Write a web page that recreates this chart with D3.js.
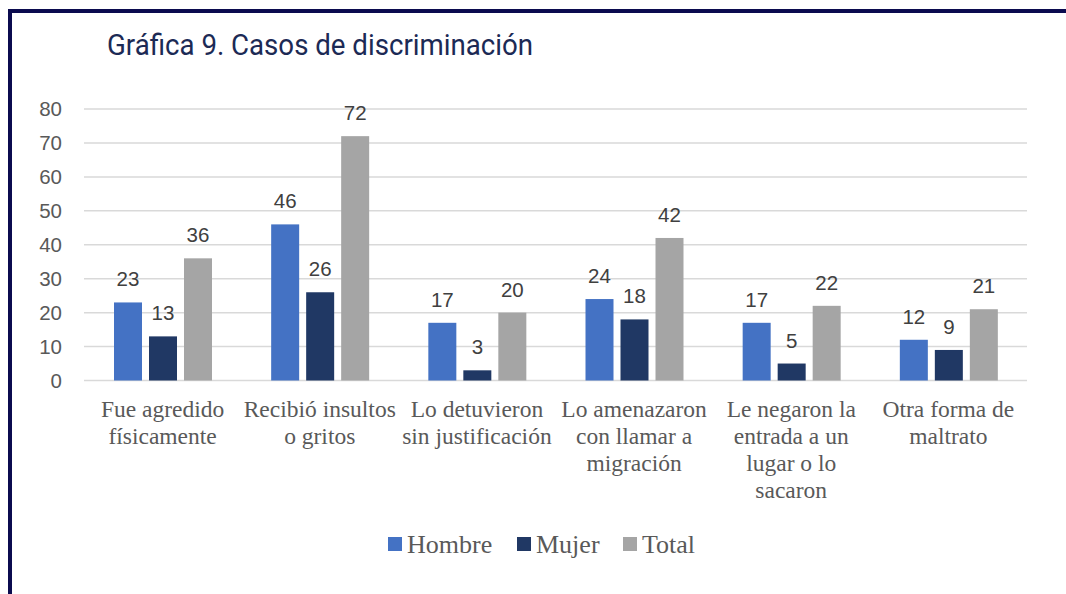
<!DOCTYPE html>
<html>
<head>
<meta charset="utf-8">
<script src="https://cdn.jsdelivr.net/npm/d3@7"></script>
<style>
  body { margin: 0; background: #fff; }
  svg { display: block; }
</style>
</head>
<body>
<div id="chart"></div>
<script>
const categories = [
  ["Fue agredido", "físicamente"],
  ["Recibió insultos", "o gritos"],
  ["Lo detuvieron", "sin justificación"],
  ["Lo amenazaron", "con llamar a", "migración"],
  ["Le negaron la", "entrada a un", "lugar o lo", "sacaron"],
  ["Otra forma de", "maltrato"]
];
const seriesNames = ["Hombre", "Mujer", "Total"];
const hombre = [23, 46, 17, 24, 17, 12];
const mujer = [13, 26, 3, 18, 5, 9];
const total = [36, 72, 20, 42, 22, 21];
const yTicks = [0, 10, 20, 30, 40, 50, 60, 70, 80];
const colors = ["#4472C4", "#203864", "#A5A5A5"];

const width = 1066, height = 594;
const svg = d3.select("#chart").append("svg")
  .attr("width", width)
  .attr("height", height);

// frame
svg.append("line").attr("x1", 8).attr("x2", width).attr("y1", 11).attr("y2", 11)
  .attr("stroke", "#0b0b4f").attr("stroke-width", 4);
svg.append("line").attr("x1", 10).attr("x2", 10).attr("y1", 9).attr("y2", height)
  .attr("stroke", "#0b0b4f").attr("stroke-width", 4);

svg.append("text")
  .attr("x", 107).attr("y", 55)
  .attr("font-family", "Roboto, 'Open Sans', sans-serif")
  .attr("font-size", 30)
  .attr("fill", "#1c2a55")
  .attr("textLength", 426)
  .attr("lengthAdjust", "spacingAndGlyphs")
  .text("Gráfica 9. Casos de discriminación");

const x0 = d3.scaleBand().domain(d3.range(categories.length)).range([84, 1027]);
const x1 = d3.scaleBand().domain(seriesNames).range([30, 128]).paddingInner(0.2);
const y = d3.scaleLinear().domain([0, 80]).range([380.5, 109]);

// grid
svg.append("g").selectAll("line").data(yTicks).join("line")
  .attr("x1", 84).attr("x2", 1027)
  .attr("y1", d => y(d)).attr("y2", d => y(d))
  .attr("stroke", "#d9d9d9").attr("stroke-width", 1.5);

const yAxis = svg.append("g").attr("transform", "translate(62,0)")
  .call(d3.axisLeft(y).tickValues(yTicks).tickSize(0).tickPadding(0));
yAxis.select(".domain").remove();
yAxis.selectAll("text")
  .attr("font-family", "'Liberation Sans', Arial, sans-serif")
  .attr("font-size", 20.5).attr("fill", "#595959");

const data = categories.map((c, i) => ({
  i, values: [hombre[i], mujer[i], total[i]]
}));

const groups = svg.append("g").selectAll("g").data(data).join("g")
  .attr("transform", d => `translate(${x0(d.i)},0)`);

groups.selectAll("rect").data(d => d.values.map((v, k) => ({ k, v }))).join("rect")
  .attr("x", d => x1(seriesNames[d.k]))
  .attr("width", x1.bandwidth())
  .attr("y", d => y(d.v))
  .attr("height", d => y(0) - y(d.v))
  .attr("fill", d => colors[d.k]);

groups.selectAll("text.val").data(d => d.values.map((v, k) => ({ k, v }))).join("text")
  .attr("class", "val")
  .attr("x", d => x1(seriesNames[d.k]) + x1.bandwidth() / 2)
  .attr("y", d => y(d.v) - 16)
  .attr("text-anchor", "middle")
  .attr("font-family", "'Liberation Sans', Arial, sans-serif")
  .attr("font-size", 20.5).attr("fill", "#404040")
  .text(d => d.v);

// category labels
const catLabels = svg.append("g").selectAll("text").data(categories).join("text")
  .attr("x", (d, i) => x0(i) + x0.bandwidth() / 2)
  .attr("y", 417)
  .attr("text-anchor", "middle")
  .attr("font-family", "'Liberation Serif', 'Times New Roman', serif")
  .attr("font-size", 23.5).attr("fill", "#595959");
catLabels.selectAll("tspan").data(d => d).join("tspan")
  .attr("x", function() { return this.parentNode.getAttribute("x"); })
  .attr("dy", (d, j) => j === 0 ? 0 : 27)
  .text(d => d);

// legend
const legendX = [388, 517, 623];
const legend = svg.append("g").selectAll("g").data(seriesNames).join("g")
  .attr("transform", (d, i) => `translate(${legendX[i]},537)`);
legend.append("rect").attr("width", 14).attr("height", 14)
  .attr("fill", (d, i) => colors[i]);
legend.append("text").attr("x", 19).attr("y", 16)
  .attr("font-family", "'Liberation Serif', 'Times New Roman', serif")
  .attr("font-size", 26).attr("fill", "#595959")
  .text(d => d);
</script>
</body>
</html>
